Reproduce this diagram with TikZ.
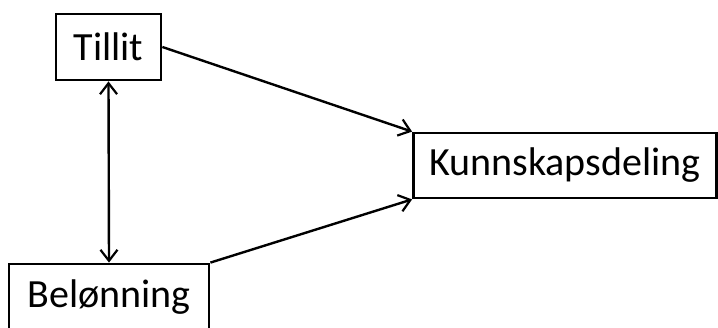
\documentclass[tikz,border=0pt]{standalone}
\usepackage{fontspec}
\setmainfont{Carlito}
\usetikzlibrary{arrows.meta}
\begin{document}
\begin{tikzpicture}[x=1pt,y=1pt,
  box/.style={draw=black, line width=2.8pt, fill=white, inner sep=0pt,
    font=\fontsize{40}{48}\selectfont},
  tip/.style={},
  conn/.style={line width=2.4pt, -{Straight Barb[length=11pt,width=17pt,line width=2.2pt]}},
  both/.style={line width=2.4pt, {Straight Barb[length=11pt,width=17pt,line width=2.2pt]}-{Straight Barb[length=11pt,width=17pt,line width=2.2pt]}}]
\useasboundingbox (0,0) rectangle (718,-327);
\node[box, minimum width=105pt, minimum height=66pt] (t) at (108.5,-47) {Tillit};
\node[box, minimum width=200pt, minimum height=66pt] (b) at (109,-297) {Belønning};
\node[box, minimum width=303pt, minimum height=65pt] (k) at (565,-165.5) {Kunnskapsdeling};
\draw[conn] (t.east) -- (k.north west);
\draw[conn] (b.north east) -- (k.south west);
\draw[both] (t.south) -- (b.north);
\end{tikzpicture}
\end{document}
